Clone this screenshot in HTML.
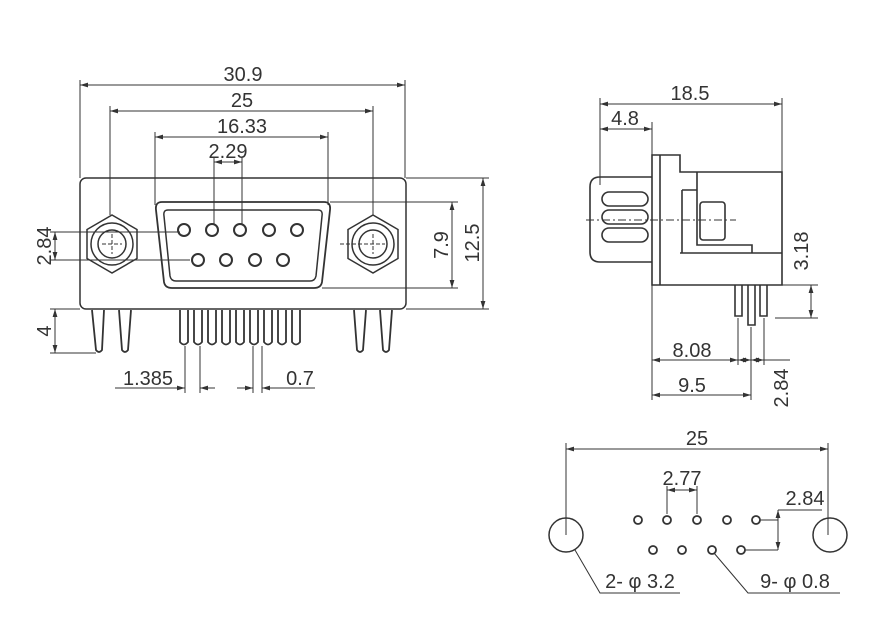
<!DOCTYPE html>
<html><head><meta charset="utf-8"><style>
html,body{margin:0;padding:0;background:#fff}
svg{display:block}
text{font-family:"Liberation Sans",sans-serif;font-size:20px;fill:#333}
</style></head><body>
<svg width="882" height="640" viewBox="0 0 882 640" xmlns="http://www.w3.org/2000/svg">
<defs>
<marker id="a" viewBox="0 0 10 6" refX="10" refY="3" markerWidth="8" markerHeight="5" orient="auto-start-reverse"><path d="M0,0L10,3L0,6z" fill="#333"/></marker>
</defs>
<g stroke="#333" stroke-width="1" fill="none">
<line x1="80" y1="85" x2="405" y2="85" marker-start="url(#a)" marker-end="url(#a)"/>
<line x1="80" y1="80" x2="80" y2="178"/><line x1="405" y1="80" x2="405" y2="178"/>
<line x1="110" y1="111" x2="373" y2="111" marker-start="url(#a)" marker-end="url(#a)"/>
<line x1="110" y1="106" x2="110" y2="215"/><line x1="373" y1="106" x2="373" y2="215"/>
<line x1="155" y1="137" x2="328" y2="137" marker-start="url(#a)" marker-end="url(#a)"/>
<line x1="155" y1="132" x2="155" y2="205"/><line x1="328" y1="132" x2="328" y2="205"/>
<line x1="214" y1="162" x2="242" y2="162" marker-start="url(#a)" marker-end="url(#a)"/>
<line x1="214" y1="158" x2="214" y2="224"/><line x1="242" y1="158" x2="242" y2="224"/>
<rect x="80" y="178" width="326" height="131" rx="6" stroke-width="1.5"/>
<path d="M162,202 H324 Q331,202 330,210 L322,282 Q321,288 314,288 H172 Q165,288 164,282 L156,210 Q155,202 162,202Z" stroke-width="1.8"/>
<path d="M168,210 H318 Q323,210 322,216 L316,276 Q315,281 310,281 H176 Q171,281 170,276 L164,216 Q163,210 168,210Z" stroke-width="1.5"/>
<g stroke-width="2">
<circle cx="184" cy="230" r="6"/><circle cx="212" cy="230" r="6"/><circle cx="240" cy="230" r="6"/><circle cx="269" cy="230" r="6"/><circle cx="297" cy="230" r="6"/>
<circle cx="198" cy="260" r="6"/><circle cx="226" cy="260" r="6"/><circle cx="255" cy="260" r="6"/><circle cx="283" cy="260" r="6"/>
</g>
<g stroke-width="1.5">
<polygon points="112,215 137,229.5 137,258.5 112,273 87,258.5 87,229.5"/>
<circle cx="112" cy="244" r="21"/><circle cx="112" cy="244" r="14"/>
<polygon points="373,215 398,229.5 398,258.5 373,273 348,258.5 348,229.5"/>
<circle cx="373" cy="244" r="21"/><circle cx="373" cy="244" r="14"/>
</g>
<g stroke-dasharray="4,2"><line x1="102" y1="244" x2="122" y2="244"/><line x1="112" y1="234" x2="112" y2="254"/><line x1="340" y1="244" x2="385" y2="244"/><line x1="373" y1="234" x2="373" y2="254"/></g>
<line x1="50" y1="232" x2="180" y2="232"/><line x1="50" y1="260" x2="190" y2="260"/>
<line x1="55" y1="232" x2="55" y2="260" marker-start="url(#a)" marker-end="url(#a)"/>
<line x1="330" y1="202" x2="458" y2="202"/><line x1="322" y1="288" x2="458" y2="288"/>
<line x1="452" y1="202" x2="452" y2="288" marker-start="url(#a)" marker-end="url(#a)"/>
<line x1="406" y1="178" x2="489" y2="178"/><line x1="406" y1="309" x2="489" y2="309"/>
<line x1="483" y1="178" x2="483" y2="309" marker-start="url(#a)" marker-end="url(#a)"/>
<g stroke-width="1.8">
<path d="M92,310 L96,350 Q99,354 102,350 L104,310"/>
<path d="M119,310 L122,350 Q125,354 128,350 L131,310"/>
<path d="M354,310 L357,350 Q360,354 363,350 L366,310"/>
<path d="M380,310 L383,350 Q386,354 389,350 L392,310"/>
<path d="M180,310 V342 Q184,347 188,342 V310 M194,310 V342 Q198,347 202,342 V310 M208,310 V342 Q212,347 216,342 V310 M222,310 V342 Q226,347 230,342 V310 M236,310 V342 Q240,347 244,342 V310 M250,310 V342 Q254,347 258,342 V310 M264,310 V342 Q268,347 272,342 V310 M278,310 V342 Q282,347 286,342 V310 M292,310 V342 Q296,347 300,342 V310"/>
</g>
<line x1="50" y1="309" x2="80" y2="309"/><line x1="50" y1="353" x2="96" y2="353"/>
<line x1="55" y1="309" x2="55" y2="353" marker-start="url(#a)" marker-end="url(#a)"/>
<line x1="185" y1="346" x2="185" y2="393"/><line x1="200" y1="346" x2="200" y2="393"/>
<line x1="115" y1="388" x2="185" y2="388" marker-end="url(#a)"/><line x1="215" y1="388" x2="200" y2="388" marker-end="url(#a)"/>
<line x1="253" y1="346" x2="253" y2="393"/><line x1="262" y1="346" x2="262" y2="393"/>
<line x1="237" y1="388" x2="253" y2="388" marker-end="url(#a)"/><line x1="315" y1="388" x2="262" y2="388" marker-end="url(#a)"/>

<line x1="600" y1="104" x2="782" y2="104" marker-start="url(#a)" marker-end="url(#a)"/>
<line x1="600" y1="98" x2="600" y2="185"/><line x1="782" y1="98" x2="782" y2="172"/>
<line x1="600" y1="129" x2="652" y2="129" marker-start="url(#a)" marker-end="url(#a)"/>
<line x1="652" y1="122" x2="652" y2="155"/>
<g stroke-width="1.6">
<path d="M652,155 H680 V172 H782 V285 H652 Z"/>
<line x1="660" y1="155" x2="660" y2="285"/>
<line x1="680" y1="253" x2="782" y2="253"/>
<path d="M652,177 H600 Q590,177 590,187 V252 Q590,262 600,262 H652"/>
<rect x="602" y="192" width="46" height="14" rx="7"/>
<rect x="602" y="210" width="46" height="14" rx="7"/>
<rect x="602" y="228" width="46" height="14" rx="7"/>
<path d="M682,190 H697 V172 M697,190 V245 H752 V253 M682,190 V253"/>
<rect x="700" y="202" width="25" height="38" rx="3"/>
<path d="M735,285 V316 H742 V285 M748,285 V325 H755 V285 M760,285 V316 H767 V285"/>
</g>
<line x1="586" y1="220" x2="736" y2="220" stroke-dasharray="8,3,2,3"/>
<line x1="770" y1="285" x2="818" y2="285"/><line x1="775" y1="318" x2="818" y2="318"/>
<line x1="811" y1="285" x2="811" y2="318" marker-start="url(#a)" marker-end="url(#a)"/>
<line x1="652" y1="285" x2="652" y2="400"/>
<line x1="738" y1="318" x2="738" y2="365"/><line x1="751" y1="327" x2="751" y2="400"/><line x1="764" y1="318" x2="764" y2="365"/>
<line x1="652" y1="360" x2="738" y2="360" marker-start="url(#a)" marker-end="url(#a)"/>
<line x1="738" y1="360" x2="751" y2="360" marker-start="url(#a)" marker-end="url(#a)"/>
<line x1="751" y1="360" x2="764" y2="360" marker-start="url(#a)" marker-end="url(#a)"/>
<line x1="764" y1="360" x2="790" y2="360"/>
<line x1="652" y1="395" x2="751" y2="395" marker-start="url(#a)" marker-end="url(#a)"/>

<line x1="566" y1="449" x2="828" y2="449" marker-start="url(#a)" marker-end="url(#a)"/>
<line x1="566" y1="443" x2="566" y2="535"/><line x1="828" y1="443" x2="828" y2="535"/>
<circle cx="566" cy="535" r="17" stroke-width="1.5"/><circle cx="830" cy="535" r="17" stroke-width="1.5"/>
<g stroke-width="1.8">
<circle cx="638" cy="520" r="4"/><circle cx="667" cy="520" r="4"/><circle cx="697" cy="520" r="4"/><circle cx="727" cy="520" r="4"/><circle cx="756" cy="520" r="4"/>
<circle cx="653" cy="550" r="4"/><circle cx="682" cy="550" r="4"/><circle cx="712" cy="550" r="4"/><circle cx="741" cy="550" r="4"/>
</g>
<line x1="667" y1="486" x2="667" y2="514"/><line x1="697" y1="486" x2="697" y2="514"/>
<line x1="667" y1="490" x2="697" y2="490" marker-start="url(#a)" marker-end="url(#a)"/>
<line x1="760" y1="520" x2="778" y2="520"/><line x1="745" y1="550" x2="778" y2="550"/>
<line x1="778" y1="510" x2="778" y2="550" marker-start="url(#a)" marker-end="url(#a)"/>
<line x1="778" y1="510" x2="822" y2="510"/>
<polyline points="575,550 600,593 680,593"/>
<polyline points="714,553 748,593 840,593"/>
</g>
<text x="243" y="81" text-anchor="middle">30.9</text>
<text x="242" y="107" text-anchor="middle">25</text>
<text x="242" y="133" text-anchor="middle">16.33</text>
<text x="228" y="158" text-anchor="middle">2.29</text>
<text transform="translate(51,246) rotate(-90)" text-anchor="middle">2.84</text>
<text transform="translate(448,245) rotate(-90)" text-anchor="middle">7.9</text>
<text transform="translate(479,243) rotate(-90)" text-anchor="middle">12.5</text>
<text transform="translate(51,331) rotate(-90)" text-anchor="middle">4</text>
<text x="148" y="385" text-anchor="middle">1.385</text>
<text x="300" y="385" text-anchor="middle">0.7</text>
<text x="690" y="100" text-anchor="middle">18.5</text>
<text x="625" y="125" text-anchor="middle">4.8</text>
<text transform="translate(808,251) rotate(-90)" text-anchor="middle">3.18</text>
<text x="692" y="357" text-anchor="middle">8.08</text>
<text x="692" y="392" text-anchor="middle">9.5</text>
<text transform="translate(788,388) rotate(-90)" text-anchor="middle">2.84</text>
<text x="697" y="445" text-anchor="middle">25</text>
<text x="682" y="485" text-anchor="middle">2.77</text>
<text x="805" y="505" text-anchor="middle">2.84</text>
<text x="640" y="588" text-anchor="middle">2- φ 3.2</text>
<text x="795" y="588" text-anchor="middle">9- φ 0.8</text>
</svg>
</body></html>
